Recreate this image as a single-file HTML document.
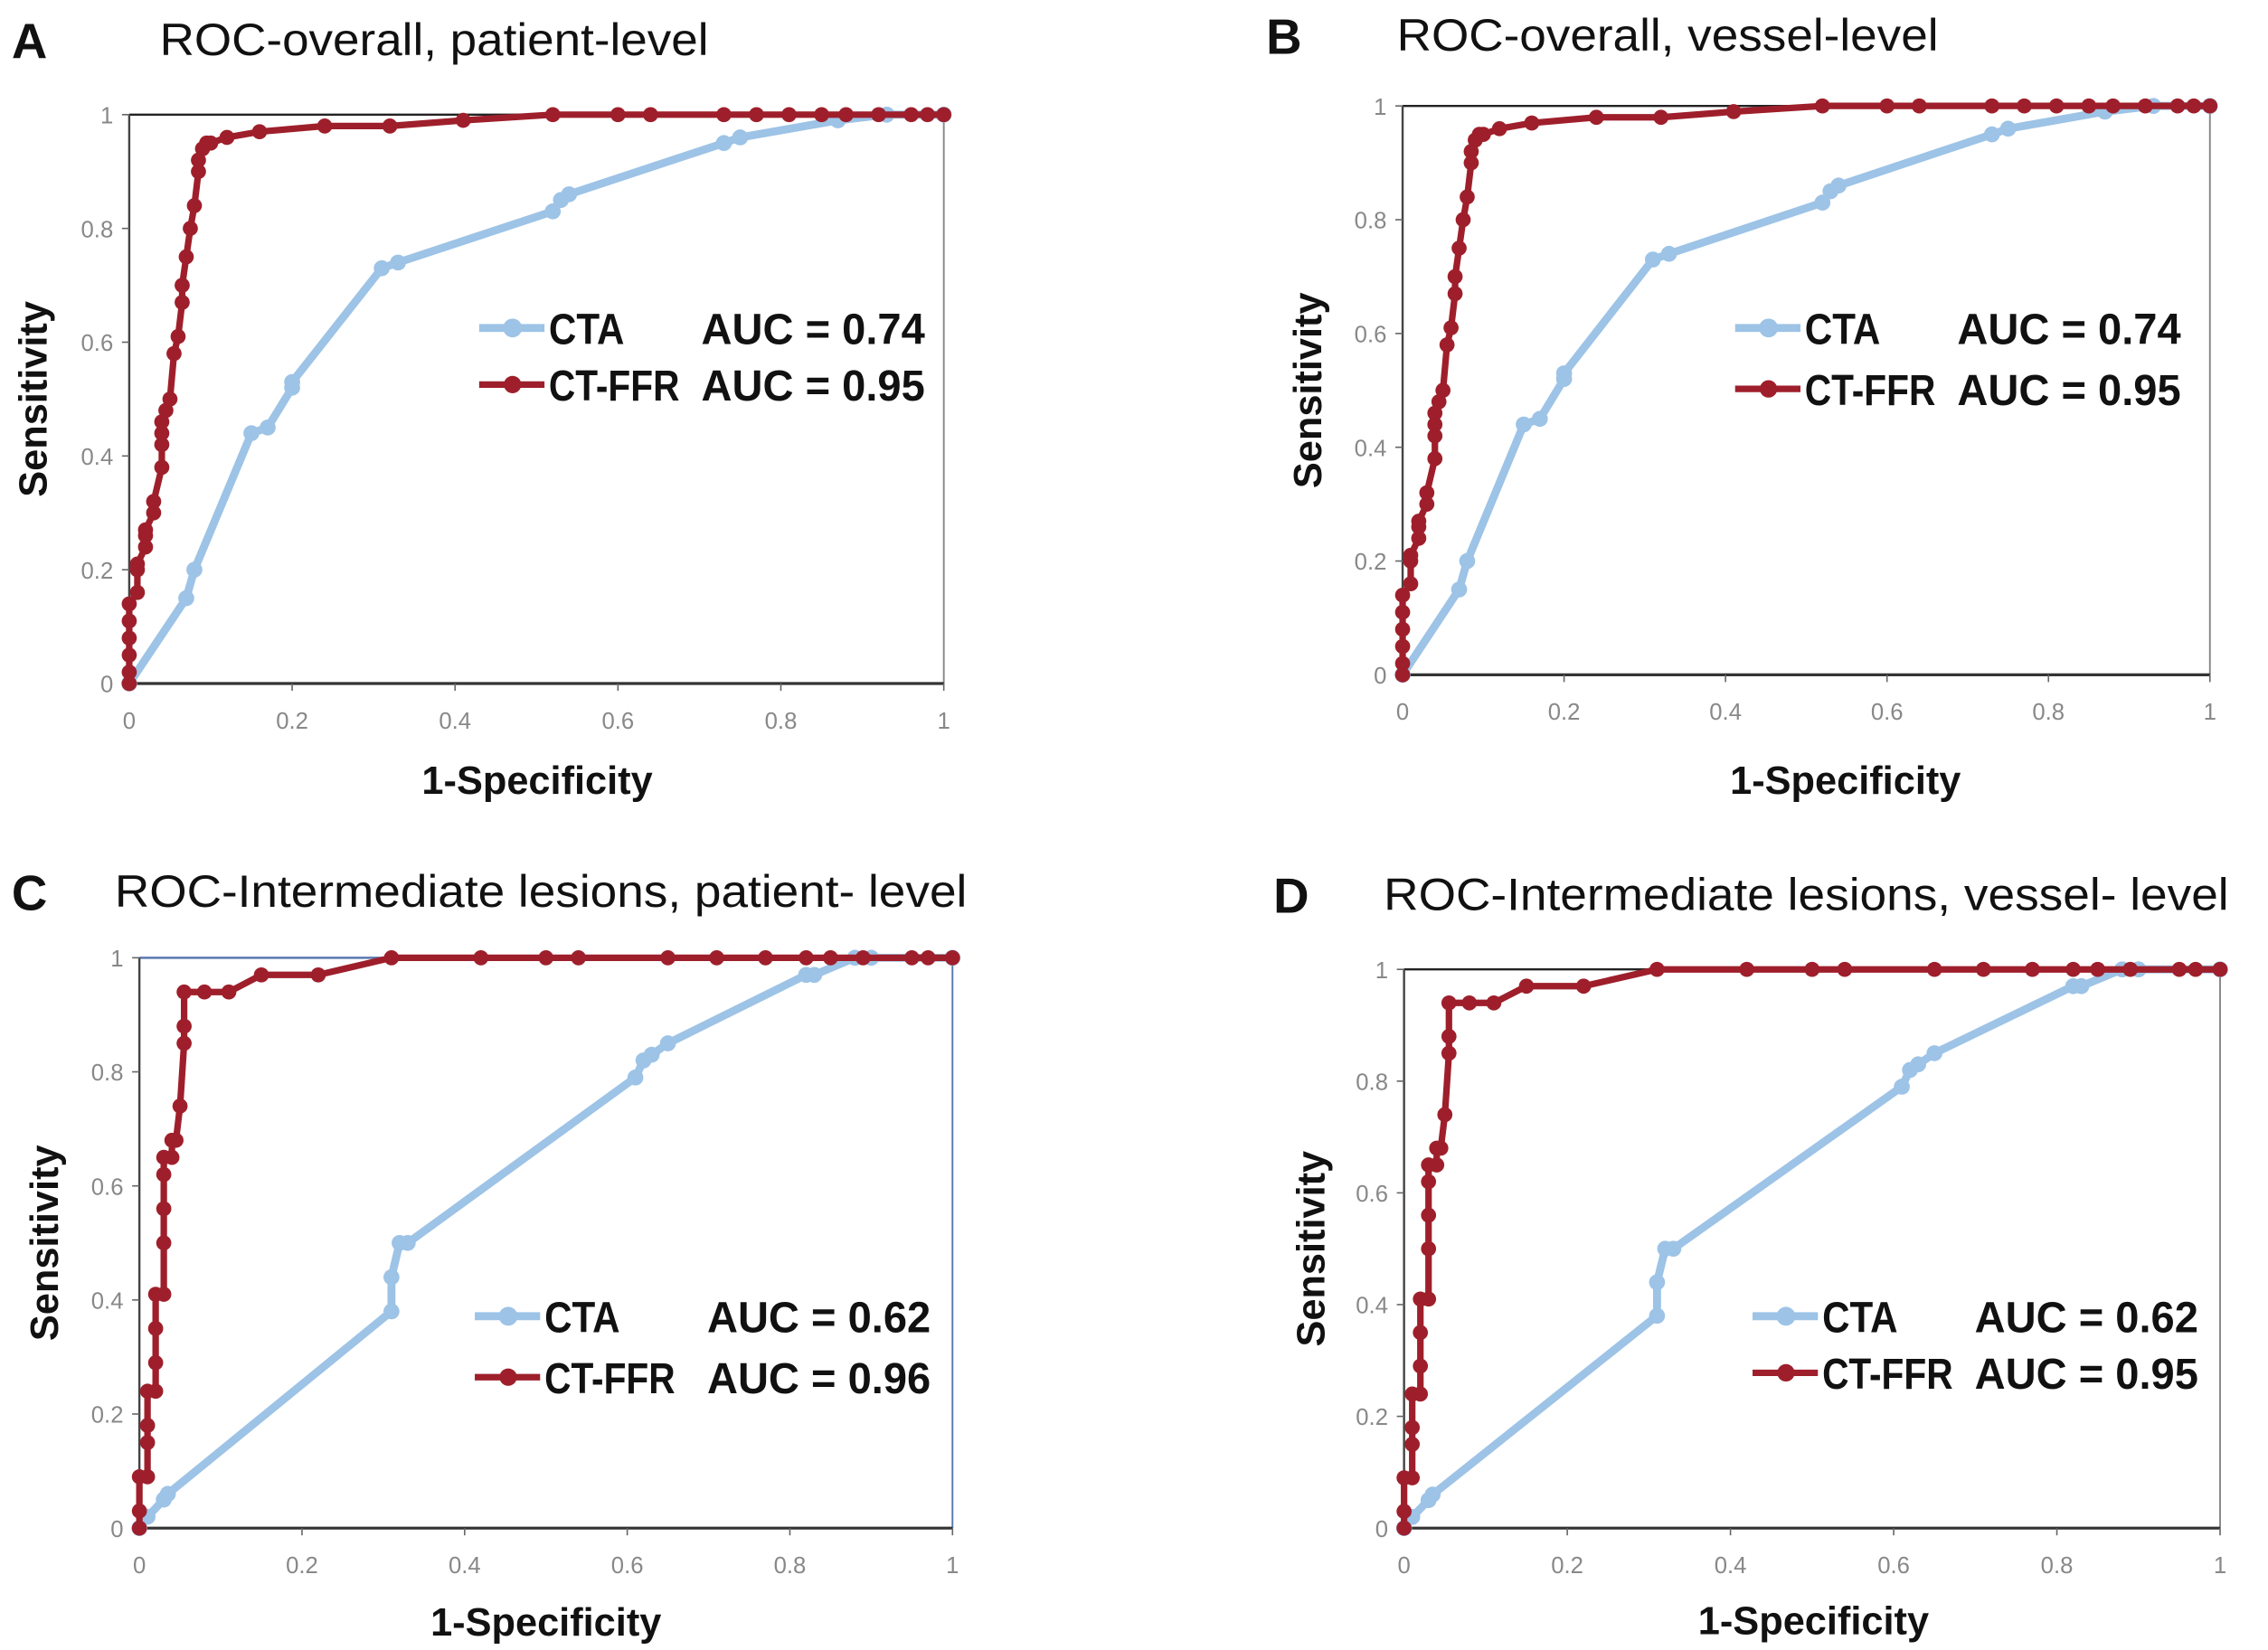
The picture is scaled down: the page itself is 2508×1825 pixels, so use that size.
<!DOCTYPE html>
<html><head><meta charset="utf-8"><style>
html,body{margin:0;padding:0;background:#fff;}
svg{display:block;}
text{font-family:"Liberation Sans",sans-serif;}
</style></head><body>
<svg id="fig" width="2508" height="1825" viewBox="0 0 1562 1137" preserveAspectRatio="none" xmlns="http://www.w3.org/2000/svg"></svg>
<script>
// ---- data ----
const ctaA_x = [0,0.07,0.08,0.15,0.17,0.2,0.2,0.31,0.33,0.52,0.53,0.54,0.73,0.75,0.87,0.93,1];
const ctaA_y = [0,0.15,0.2,0.44,0.45,0.52,0.53,0.73,0.74,0.83,0.85,0.86,0.95,0.96,0.99,1,1];
const ffrA_x = [0,0,0,0,0,0,0.01,0.01,0.01,0.02,0.02,0.02,0.03,0.03,0.04,0.04,0.04,0.04,0.045,0.05,0.055,0.06,0.065,0.065,0.07,0.075,0.08,0.085,0.085,0.09,0.095,0.1,0.12,0.16,0.24,0.32,0.41,0.52,0.6,0.64,0.73,0.77,0.81,0.85,0.88,0.92,0.96,0.98,1];
const ffrA_y = [0,0.02,0.05,0.08,0.11,0.14,0.16,0.2,0.21,0.24,0.26,0.27,0.3,0.32,0.38,0.42,0.44,0.46,0.48,0.5,0.58,0.61,0.67,0.7,0.75,0.8,0.84,0.9,0.92,0.94,0.95,0.95,0.96,0.97,0.98,0.98,0.99,1,1,1,1,1,1,1,1,1,1,1,1];
const ctaC_x = [0,0.01,0.03,0.035,0.31,0.31,0.32,0.33,0.61,0.62,0.63,0.65,0.82,0.83,0.88,0.9,1];
const ctaC_y = [0,0.02,0.05,0.06,0.38,0.44,0.5,0.5,0.79,0.82,0.83,0.85,0.97,0.97,1,1,1];
const ffrC_x = [0,0,0,0.01,0.01,0.01,0.01,0.02,0.02,0.02,0.02,0.03,0.03,0.03,0.03,0.03,0.04,0.04,0.045,0.05,0.055,0.055,0.055,0.08,0.11,0.15,0.22,0.31,0.42,0.5,0.54,0.65,0.71,0.77,0.82,0.85,0.89,0.95,0.97,1];
const ffrC_y = [0,0.03,0.09,0.09,0.15,0.18,0.24,0.24,0.29,0.35,0.41,0.41,0.5,0.56,0.62,0.65,0.65,0.68,0.68,0.74,0.85,0.88,0.94,0.94,0.94,0.97,0.97,1,1,1,1,1,1,1,1,1,1,1,1,1];
const tickLabels = ["0","0.2","0.4","0.6","0.8","1"];
const tickValues = [0,0.2,0.4,0.6,0.8,1];

const panels = [
 {id:"a",letter:"A",title:"ROC-overall, patient-level",lx:8,tx:110,tw:378,ty:38,x0:89,x1:650,yt:79,yb:471,cx:ctaA_x,cy:ctaA_y,fx:ffrA_x,fy:ffrA_y,auc1:"AUC = 0.74",auc2:"AUC = 0.95",lgx:330,lg1:226,lg2:265,aucx:483,aucw:154,topc:"#222",rc:"#888",xtY:547,xtX:370,ytX:32},
 {id:"b",letter:"B",title:"ROC-overall, vessel-level",lx:872,tx:962,tw:373,ty:35,x0:966,x1:1522,yt:73,yb:465,cx:ctaA_x,cy:ctaA_y,fx:ffrA_x,fy:ffrA_y,auc1:"AUC = 0.74",auc2:"AUC = 0.95",lgx:1195,lg1:226,lg2:268,aucx:1348,aucw:154,topc:"#222",rc:"#888",xtY:547,xtX:1271,ytX:910},
 {id:"c",letter:"C",title:"ROC-Intermediate lesions, patient- level",lx:8,tx:79,tw:587,ty:625,x0:96,x1:656,yt:660,yb:1053,cx:ctaC_x,cy:ctaC_y,fx:ffrC_x,fy:ffrC_y,auc1:"AUC = 0.62",auc2:"AUC = 0.96",lgx:327,lg1:907,lg2:949,aucx:487,aucw:154,topc:"#5a78b0",rc:"#5a78b0",xtY:1127,xtX:376,ytX:40},
 {id:"d",letter:"D",title:"ROC-Intermediate lesions, vessel- level",lx:877,tx:953,tw:582,ty:627,x0:967,x1:1529,yt:668,yb:1053,cx:ctaC_x,cy:ctaC_y,fx:ffrC_x,fy:ffrC_y,auc1:"AUC = 0.62",auc2:"AUC = 0.95",lgx:1207,lg1:907,lg2:946,aucx:1360,aucw:154,topc:"#222",rc:"#888",xtY:1126,xtX:1249,ytX:912}
];
const NS="http://www.w3.org/2000/svg";
const svg=document.getElementById('fig');
function mk(tag,attrs,parent){const e=document.createElementNS(NS,tag);for(const k in attrs)e.setAttribute(k,attrs[k]);(parent||svg).appendChild(e);return e;}
const BLUE="#9dc3e6", RED="#9e1f2b";
panels.forEach(p=>{
  const g=mk('g',{});
  
  
  const sx=v=>p.x0+v*(p.x1-p.x0), sy=v=>p.yb-v*(p.yb-p.yt);
  let t=mk('text',{x:p.lx,y:p.ty+2,'font-size':34,'font-weight':'bold',fill:'#111'},g);t.textContent=p.letter;
  
  
  t=mk('text',{x:p.tx,y:p.ty,'font-size':31,fill:'#111',textLength:p.tw,lengthAdjust:'spacingAndGlyphs'},g);t.textContent=p.title;
  
  
  // frame
  let l=mk('line',{x1:p.x0,y1:p.yt,x2:p.x1,y2:p.yt,stroke:p.topc,'stroke-width':1.5},g);
  
  
  l=mk('line',{x1:p.x1,y1:p.yt,x2:p.x1,y2:p.yb,stroke:p.rc,'stroke-width':1.2},g);
  
  
  l=mk('line',{x1:p.x0,y1:p.yt,x2:p.x0,y2:p.yb,stroke:'#444','stroke-width':1.5},g);
  
  
  l=mk('line',{x1:p.x0,y1:p.yb,x2:p.x1,y2:p.yb,stroke:'#333','stroke-width':2},g);
  
  
  tickValues.forEach((v,i)=>{
    mk('line',{x1:sx(v),y1:p.yb,x2:sx(v),y2:p.yb+5,stroke:'#666'},g);
    mk('line',{x1:p.x0-5,y1:sy(v),x2:p.x0,y2:sy(v),stroke:'#666'},g);
    let a=mk('text',{x:sx(v),y:p.yb+31,'font-size':16,fill:'#888','text-anchor':'middle'},g);a.textContent=tickLabels[i];
    
    
    a=mk('text',{x:p.x0-11,y:sy(v)+6,'font-size':16,fill:'#888','text-anchor':'end'},g);a.textContent=tickLabels[i];
    
    
  });
  t=mk('text',{x:p.xtX,y:p.xtY,'font-size':27,'font-weight':'bold',fill:'#111','text-anchor':'middle'},g);t.textContent="1-Specificity";
  
  
  const cyc=(p.yt+p.yb)/2;
  t=mk('text',{x:p.ytX,y:cyc,'font-size':27,'font-weight':'bold',fill:'#111','text-anchor':'middle',transform:`rotate(-90 ${p.ytX} ${cyc})`},g);t.textContent="Sensitivity";
  
  
  // series
  function series(xs,ys,col,w,r,name){
    const pts=xs.map((x,i)=>sx(x)+','+sy(ys[i])).join(' ');
    const pl=mk('polyline',{points:pts,fill:'none',stroke:col,'stroke-width':w,'stroke-linejoin':'round'},g);
    
    
    xs.forEach((x,i)=>{const c=mk('circle',{cx:sx(x),cy:sy(ys[i]),r:r,fill:col},g);
      
      });
  }
  series(p.cx,p.cy,BLUE,5.5,5.5,'cta');
  series(p.fx,p.fy,RED,4.5,5.2,'ct-ffr');
  // legend
  const lg=mk('g',{},g);
  
  
  [[p.lg1,BLUE,"CTA",p.auc1,5.5,6.5],[p.lg2,RED,"CT-FFR",p.auc2,4.5,6]].forEach(e=>{
    mk('line',{x1:p.lgx,y1:e[0],x2:p.lgx+45,y2:e[0],stroke:e[1],'stroke-width':e[4]},lg);
    mk('circle',{cx:p.lgx+23,cy:e[0],r:e[5],fill:e[1]},lg);
    let a=mk('text',{x:p.lgx+48,y:e[0]+11,'font-size':30,'font-weight':'bold',fill:'#111',textLength:e[2]==="CTA"?52:90,lengthAdjust:'spacingAndGlyphs'},lg);a.textContent=e[2];
    
    
    a=mk('text',{x:p.aucx,y:e[0]+11,'font-size':30,'font-weight':'bold',fill:'#111',textLength:p.aucw,lengthAdjust:'spacingAndGlyphs'},lg);a.textContent=e[3];
    
    
  });
});
</script>
</body></html>
